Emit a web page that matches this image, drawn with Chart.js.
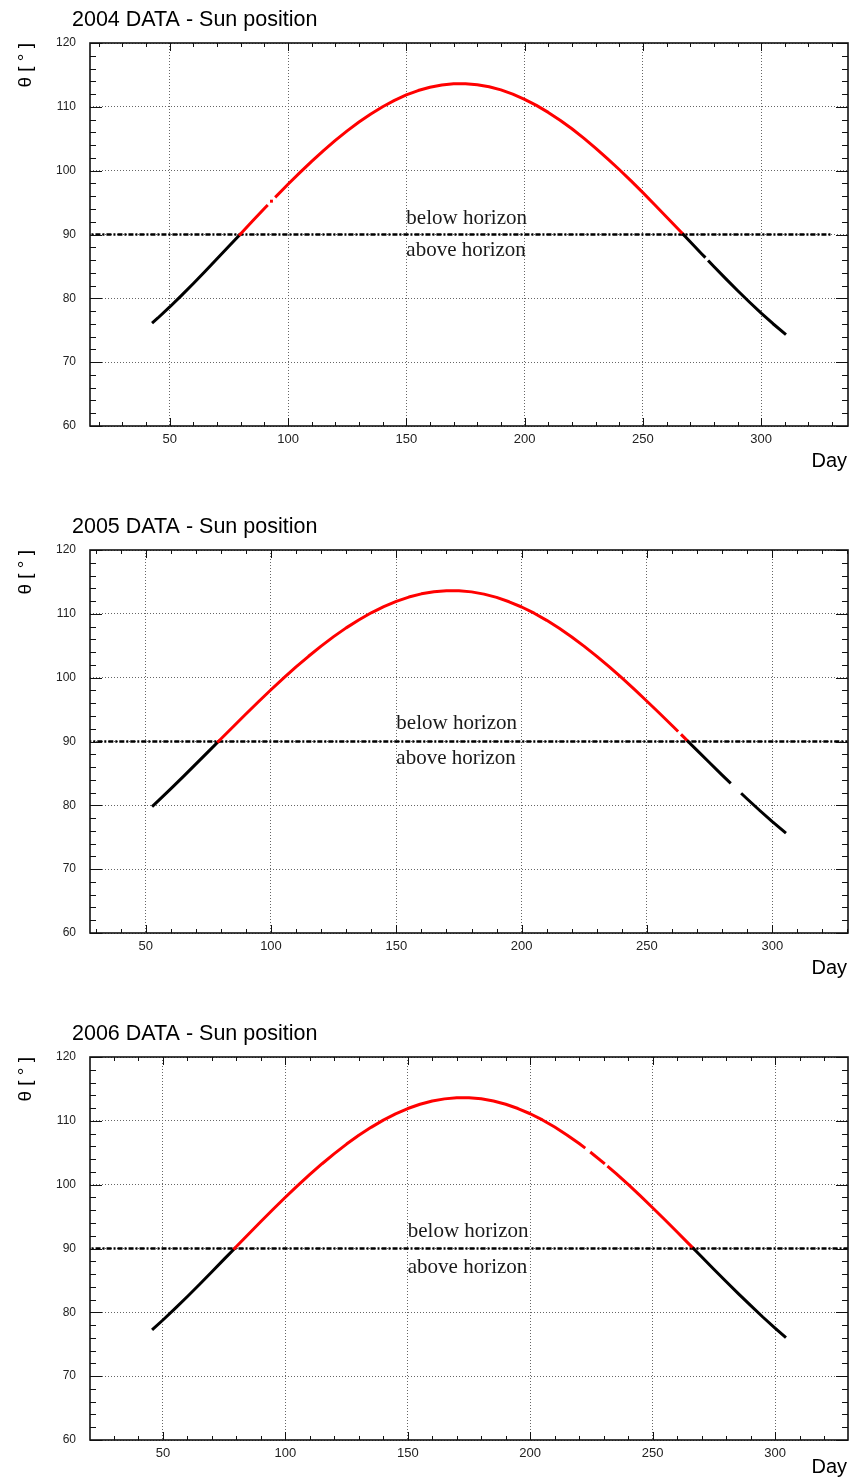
<!DOCTYPE html>
<html>
<head>
<meta charset="utf-8">
<title>Sun position</title>
<style>
    html, body { margin: 0; padding: 0; background: #fff; overflow: hidden; }
    .panel { position: absolute; left: 0; width: 850px; }
    canvas { display: block; }
</style>
</head>
<body>
<div class="panel" style="top:0px"><canvas id="c2004" width="850" height="478"></canvas></div>
<div class="panel" style="top:507px"><canvas id="c2005" width="850" height="478"></canvas></div>
<div class="panel" style="top:1014px"><canvas id="c2006" width="850" height="470"></canvas></div>
<script src="https://cdn.jsdelivr.net/npm/chart.js"></script>
<script>
    // sun zenith angle theta [deg] per day, null = no data that day
    const days2004 = [43, 45, 50, 55, 60, 65, 70, 75, 79.7, 80, 85, 90, 91, 92, 93, 94, 95,
        100, 105, 110, 115, 120, 125, 130, 135, 140, 145, 150, 155, 160, 165, 170, 175, 180,
        185, 190, 195, 200, 205, 210, 215, 220, 225, 230, 235, 240, 245, 250, 255, 260, 265,
        267.1, 270, 275, 276, 277, 278, 280, 285, 290, 295, 300, 305, 310]
    const theta2004 = [76.27, 76.92, 78.65, 80.46, 82.32, 84.24, 86.19, 88.16, 90.0, 90.13, 92.10, 94.06, 94.45, null, 95.22, null, 95.98,
        97.87, 99.70, 101.46, 103.14, 104.74, 106.24, 107.63, 108.88, 110.02, 111.01, 111.86, 112.55, 113.07, 113.42, 113.61, 113.63, 113.47,
        113.14, 112.65, 111.99, 111.18, 110.23, 109.13, 107.90, 106.56, 105.10, 103.54, 101.90, 100.18, 98.39, 96.55, 94.67, 92.75, 90.81,
        90.0, 88.87, 86.92, 86.54, null, 85.76, 84.99, 83.09, 81.23, 79.42, 77.68, 76.02, 74.45]

    const days2005 = [53, 55, 60, 65, 70, 75, 79, 80, 85, 90, 95,
        100, 105, 110, 115, 120, 125, 130, 135, 140, 145, 150, 155, 160, 165, 170, 175, 180,
        185, 190, 195, 200, 205, 210, 215, 220, 225, 230, 235, 240, 245, 250, 255, 260,
        262, 263, 264, 265, 266.4, 270, 275, 280, 283, 285, 288, 290, 295, 300, 305]
    const theta2005 = [79.97, 80.70, 82.57, 84.49, 86.45, 88.42, 90.0, 90.39, 92.36, 94.31, 96.23,
        98.11, 99.93, 101.68, 103.35, 104.94, 106.43, 107.80, 109.04, 110.16, 111.13, 111.96, 112.63, 113.13, 113.46, 113.62, 113.62, 113.44,
        113.09, 112.58, 111.89, 111.07, 110.10, 108.98, 107.73, 106.38, 104.90, 103.33, 101.68, 99.95, 98.15, 96.31, 94.42, 92.50,
        91.73, null, 90.95, 90.56, 90.0, 88.62, 86.67, 84.74, 83.60, null, 81.73, 80.99, 79.19, 77.46, 75.81]

    const days2006 = [46, 50, 55, 60, 65, 70, 75, 79.25, 80, 85, 90, 95,
        100, 105, 110, 115, 120, 125, 130, 135, 140, 145, 150, 155, 160, 165, 170, 175, 180,
        185, 190, 195, 200, 205, 210, 215, 220, 222, 223, 225, 230, 231, 232, 235, 240, 245,
        250, 255, 260, 265, 266.7, 270, 275, 280, 285, 290, 295, 300, 304]
    const theta2006 = [77.40, 78.80, 80.61, 82.48, 84.40, 86.36, 88.33, 90.0, 90.30, 92.27, 94.22, 96.14,
        98.03, 99.85, 101.60, 103.28, 104.87, 106.36, 107.74, 108.98, 110.11, 111.09, 111.93, 112.60, 113.11, 113.44, 113.62, 113.62, 113.45,
        113.11, 112.60, 111.93, 111.11, 110.14, 109.03, 107.79, 106.44, 105.87, null, 104.97, 103.41, null, 102.75, 101.76, 100.03, 98.24,
        96.39, 94.51, 92.59, 90.65, 90.0, 88.71, 86.76, 84.83, 82.93, 81.08, 79.27, 77.54, 76.21]

    // horizon line
    const horizonDays = [0, 330]
    const horizonTheta = [90, 90]

    // axes
    const dayRange2004 = [16.3, 336.7]
    const dayRange2005 = [27.8, 330.2]
    const dayRange2006 = [20.2, 329.8]
    const dayTicks = [50, 100, 150, 200, 250, 300]
    const thetaRange = [60, 120]
    const thetaTicks = [60, 70, 80, 90, 100, 110, 120]

    const RED = '#ff0000'
    const BLACK = '#000000'

    const toPoints = (xs, ys) => xs.map((x, i) => ({x: x, y: ys[i]}))

    // inward ROOT-like ticks on all four sides plus the frame
    const framePlugin = {
        id: 'frame',
        afterDatasetsDraw(chart) {
            const {ctx, chartArea: a, scales: {x, y}} = chart
            ctx.save()
            ctx.strokeStyle = '#111'
            ctx.lineWidth = 1
            ctx.beginPath()
            for (let v = Math.ceil(x.min / 10) * 10; v <= x.max; v += 10) {
                const px = Math.round(x.getPixelForValue(v)) + 0.5
                const len = v % 50 === 0 ? 8 : 4
                ctx.moveTo(px, a.bottom); ctx.lineTo(px, a.bottom - len)
                ctx.moveTo(px, a.top); ctx.lineTo(px, a.top + len)
            }
            for (let v = y.min; v <= y.max; v += 2) {
                const py = Math.round(y.getPixelForValue(v)) + 0.5
                const len = v % 10 === 0 ? 12 : 6
                ctx.moveTo(a.left, py); ctx.lineTo(a.left + len, py)
                ctx.moveTo(a.right, py); ctx.lineTo(a.right - len, py)
            }
            ctx.stroke()
            ctx.lineWidth = 1.6
            ctx.strokeRect(a.left, a.top, a.right - a.left, a.bottom - a.top)
            ctx.restore()
        }
    }

    // title, axis titles and the horizon notes
    const textPlugin = {
        id: 'sunText',
        afterDraw(chart, args, opts) {
            const {ctx, chartArea: a, scales: {x, y}} = chart
            ctx.save()
            ctx.fillStyle = '#000'
            ctx.textBaseline = 'alphabetic'
            ctx.textAlign = 'left'
            ctx.font = '21.5px "Liberation Sans", Arial, sans-serif'
            ctx.fillText(opts.title, 72, 26)

            ctx.textAlign = 'right'
            ctx.font = '20px "Liberation Sans", Arial, sans-serif'
            ctx.fillText('Day', 847, opts.dayBaseline)

            ctx.save()
            ctx.translate(25.5, a.top)
            ctx.rotate(-Math.PI / 2)
            ctx.textAlign = 'right'
            ctx.textBaseline = 'middle'
            ctx.font = '19px "Liberation Sans", Arial, sans-serif'
            ctx.fillText('θ [ ° ]', 0, 0)
            ctx.restore()

            ctx.textAlign = 'left'
            ctx.fillStyle = '#1a1a1a'
            ctx.font = '21px "Liberation Serif", "Times New Roman", serif'
            const tx = x.getPixelForValue(opts.noteDay)
            ctx.fillText('below horizon', tx, y.getPixelForValue(opts.belowAt))
            ctx.fillText('above horizon', tx, y.getPixelForValue(opts.aboveAt))
            ctx.restore()
        }
    }

    const fixedTicks = values => scale => {
        scale.ticks = values.map(v => ({value: v}))
    }

    const draw = (id, title, days, theta, dayRange, notes) => {
        const canvas = document.getElementById(id)
        const H = canvas.height
        const curve = toPoints(days, theta)

        const isolated = (ctx) => {
            const i = ctx.dataIndex
            const d = ctx.dataset.data
            if (d[i].y === null) return false
            const prevGap = i === 0 || d[i - 1].y === null
            const nextGap = i === d.length - 1 || d[i + 1].y === null
            return prevGap && nextGap
        }

        new Chart(canvas, {
            type: 'line',
            data: {
                datasets: [{
                    data: curve,
                    borderWidth: 3,
                    borderCapStyle: 'square',
                    borderJoinStyle: 'round',
                    spanGaps: false,
                    segment: {
                        borderColor: c => (c.p0.parsed.y + c.p1.parsed.y) / 2 >= 90 ? RED : BLACK
                    },
                    pointStyle: 'rect',
                    pointRadius: c => isolated(c) ? 2.1 : 0,
                    pointBorderWidth: 0,
                    pointBackgroundColor: c => c.raw && c.raw.y >= 90 ? RED : BLACK
                }, {
                    data: toPoints(horizonDays, horizonTheta),
                    borderColor: BLACK,
                    borderWidth: 2.4,
                    borderDash: [5, 2, 2, 2],
                    pointRadius: 0
                }]
            },
            options: {
                responsive: false,
                animation: false,
                events: [],
                layout: { padding: { left: 0, right: 2, top: 43, bottom: 0 } },
                plugins: {
                    legend: { display: false },
                    tooltip: { enabled: false },
                    sunText: Object.assign({ title: title, dayBaseline: H - 11 }, notes)
                },
                scales: {
                    x: {
                        type: 'linear',
                        min: dayRange[0],
                        max: dayRange[1],
                        afterBuildTicks: fixedTicks(dayTicks),
                        afterFit: s => { s.height = H - 426; s.paddingLeft = 0; s.paddingRight = 0 },
                        grid: { color: '#666', lineWidth: 1, drawTicks: false },
                        border: { display: false, dash: [1, 2] },
                        ticks: {
                            padding: 6,
                            autoSkip: false,
                            maxRotation: 0,
                            color: '#222',
                            font: { family: '"Liberation Sans", Arial, sans-serif', size: 13 }
                        }
                    },
                    y: {
                        type: 'linear',
                        min: thetaRange[0],
                        max: thetaRange[1],
                        afterBuildTicks: fixedTicks(thetaTicks),
                        afterFit: s => { s.width = 90 },
                        grid: { color: '#666', lineWidth: 1, drawTicks: false },
                        border: { display: false, dash: [1, 2] },
                        ticks: {
                            padding: 14,
                            color: '#222',
                            font: { family: '"Liberation Sans", Arial, sans-serif', size: 12 }
                        }
                    }
                }
            },
            plugins: [framePlugin, textPlugin]
        })
    }

    window.onload = () => {
        draw('c2004', '2004 DATA - Sun position', days2004, theta2004, dayRange2004,
            { noteDay: 150, belowAt: 91.6, aboveAt: 86.6 })
        draw('c2005', '2005 DATA - Sun position', days2005, theta2005, dayRange2005,
            { noteDay: 150, belowAt: 91.9, aboveAt: 86.5 })
        draw('c2006', '2006 DATA - Sun position', days2006, theta2006, dayRange2006,
            { noteDay: 150, belowAt: 91.8, aboveAt: 86.2 })
    }
</script>
</body>
</html>
